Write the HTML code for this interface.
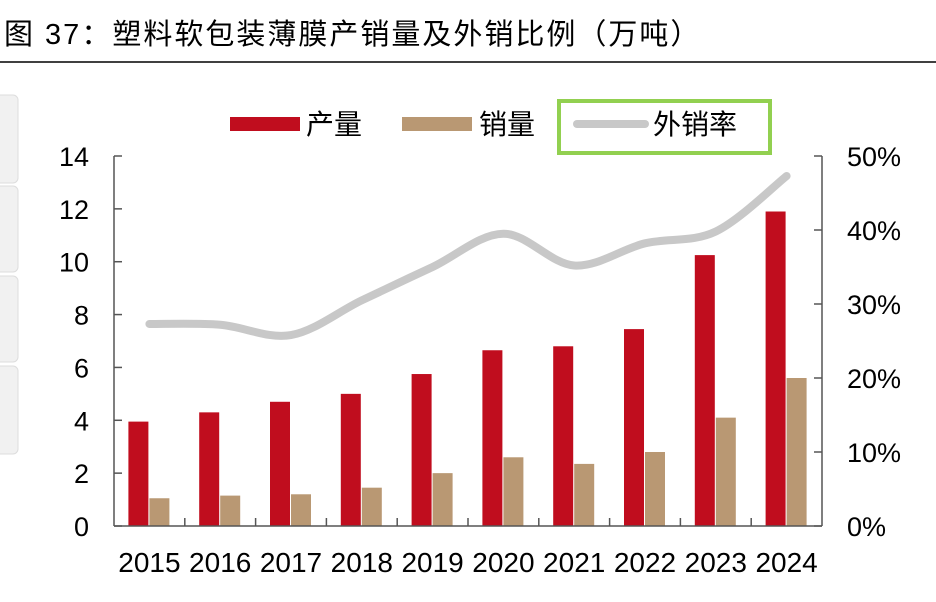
<!DOCTYPE html>
<html><head><meta charset="utf-8"><style>
body{margin:0;background:#fff;width:936px;height:597px;overflow:hidden;font-family:"Liberation Sans","Noto Sans CJK SC",sans-serif}
</style></head><body>
<svg width="936" height="597" xmlns="http://www.w3.org/2000/svg" style="font-family:'Liberation Sans','Noto Sans CJK SC',sans-serif">
<text x="4" y="44" font-size="29" letter-spacing="2" fill="#000">图 37：塑料软包装薄膜产销量及外销比例（万吨）</text>
<line x1="0" y1="62" x2="936" y2="62" stroke="#000" stroke-width="1.5"/>
<g fill="#f1f1f1" stroke="#ddd">
<rect x="-6" y="95" width="24" height="88" rx="5"/>
<rect x="-6" y="186" width="24" height="86" rx="5"/>
<rect x="-6" y="276" width="24" height="86" rx="5"/>
<rect x="-6" y="366" width="24" height="88" rx="5"/>
</g>
<g>
<rect x="230" y="117" width="70" height="14" fill="#c00d1e"/>
<text x="306" y="134" font-size="28">产量</text>
<rect x="402" y="117" width="70" height="14" fill="#b99873"/>
<text x="479" y="134" font-size="28">销量</text>
<rect x="559" y="101" width="211" height="52" fill="none" stroke="#92d050" stroke-width="4"/>
<line x1="577" y1="124" x2="645" y2="124" stroke="#c8c8c8" stroke-width="8" stroke-linecap="round"/>
<text x="653" y="134" font-size="28">外销率</text>
</g>
<g id="plot"></g>
</svg>
<script>
const categories=["2015","2016","2017","2018","2019","2020","2021","2022","2023","2024"];
const production=[3.95,4.3,4.7,5.0,5.75,6.65,6.8,7.45,10.25,11.9];
const sales=[1.05,1.15,1.2,1.45,2.0,2.6,2.35,2.8,4.1,5.6];
const exportRatio=[27.3,27.2,25.8,30.5,35.0,39.5,35.2,38.2,39.8,47.3];
const leftTicks=[0,2,4,6,8,10,12,14];
const rightTicks=["0%","10%","20%","30%","40%","50%"];
const NS="http://www.w3.org/2000/svg";
const g=document.getElementById('plot');
const X0=114,X1=822,Y0=526,Y1=156;
const bw=(X1-X0)/categories.length;
const yL=v=>Y0-(v/14)*(Y0-Y1);
const yR=p=>Y0-(p/50)*(Y0-Y1);
const cx=i=>X0+bw*(i+0.5);
function mk(t,a){const e=document.createElementNS(NS,t);for(const k in a)e.setAttribute(k,a[k]);g.appendChild(e);return e;}
categories.forEach((c,i)=>{
 let r=mk('rect',{x:cx(i)-21,y:yL(production[i]),width:20,height:Y0-yL(production[i]),fill:'#c00d1e'});
 
 
 let s=mk('rect',{x:cx(i),y:yL(sales[i]),width:20,height:Y0-yL(sales[i]),fill:'#b99873'});
 
 
 let t=mk('text',{x:cx(i),y:572,'font-size':28,'text-anchor':'middle'});t.textContent=c;
 
 
 if(i>0){let tk=mk('line',{x1:X0+bw*i,x2:X0+bw*i,y1:Y0,y2:Y0-8,stroke:'#555','stroke-width':1.5});
 
 }
});
let la=mk('line',{x1:X0,x2:X0,y1:Y1,y2:Y0,stroke:'#555','stroke-width':1.5});


let ra=mk('line',{x1:X1,x2:X1,y1:Y1,y2:Y0,stroke:'#555','stroke-width':1.5});


let xa=mk('line',{x1:X0,x2:X1,y1:Y0,y2:Y0,stroke:'#555','stroke-width':1.5});


leftTicks.forEach(v=>{
 let l=mk('line',{x1:X0,x2:X0+8,y1:yL(v),y2:yL(v),stroke:'#555','stroke-width':1.5});
 
 
 let t=mk('text',{x:89,y:yL(v)+10,'font-size':27,'text-anchor':'end'});t.textContent=v;
 
 
});
rightTicks.forEach((s,i)=>{
 const y=yR(i*10);
 let l=mk('line',{x1:X1-8,x2:X1,y1:y,y2:y,stroke:'#555','stroke-width':1.5});
 
 
 let t=mk('text',{x:847,y:y+10,'font-size':27});t.textContent=s;
 
 
});
const pts=exportRatio.map((p,i)=>[cx(i),yR(p)]);
let d='M'+pts[0][0]+','+pts[0][1];
for(let i=0;i<pts.length-1;i++){
 const p0=pts[Math.max(0,i-1)],p1=pts[i],p2=pts[i+1],p3=pts[Math.min(pts.length-1,i+2)];
 const c1=[p1[0]+(p2[0]-p0[0])/6,p1[1]+(p2[1]-p0[1])/6],c2=[p2[0]-(p3[0]-p1[0])/6,p2[1]-(p3[1]-p1[1])/6];
 d+=` C${c1[0]},${c1[1]} ${c2[0]},${c2[1]} ${p2[0]},${p2[1]}`;
}
let ln=mk('path',{d:d,fill:'none',stroke:'#c8c8c8','stroke-width':8,'stroke-linecap':'round'});


</script>
</body></html>
